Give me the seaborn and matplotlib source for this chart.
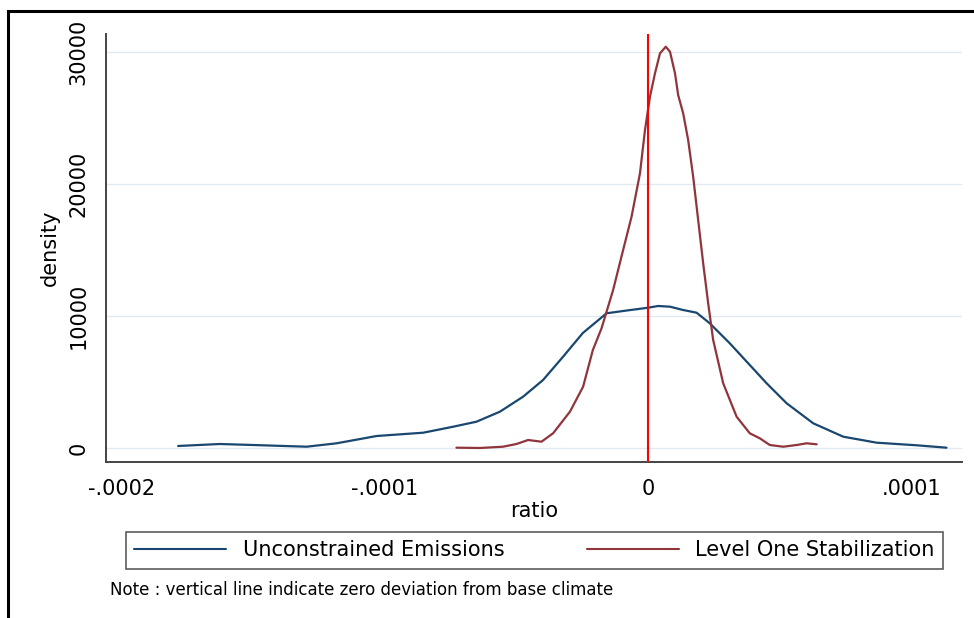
import pandas as pd
import seaborn as sns
import matplotlib
matplotlib.use("Agg")
import matplotlib.pyplot as plt
from matplotlib.patches import Rectangle

# kernel density estimates (ratio in 1e-6 units, density)
unc_x = [-178.4, -162.6, -149.9, -129.6, -118.2, -103.0, -85.3, -73.9, -65.1, -56.2,
         -47.4, -39.8, -32.3, -24.7, -15.7, -9.4, 0.1, 3.9, 8.4, 13.4,
         18.5, 23.5, 31.1, 38.7, 45.1, 52.7, 62.8, 74.2, 86.9, 102.1, 113.4]
unc_y = [152, 303, 227, 98, 356, 909, 1159, 1614, 1992, 2750,
         3886, 5152, 6894, 8712, 10205, 10379, 10629, 10758, 10705, 10455,
         10250, 9447, 7932, 6288, 4902, 3386, 1871, 856, 402, 205, 23]

lvl_x = [-72.7, -63.8, -55.0, -49.9, -45.5, -40.4, -36.0, -29.6, -24.6, -20.9,
         -17.6, -13.2, -9.4, -6.2, -3.0, -1.1, 0.8, 2.7, 4.6, 6.8,
         8.4, 10.3, 11.5, 13.4, 15.3, 17.2, 19.1, 21.0, 22.9, 24.8,
         28.6, 33.7, 38.7, 42.5, 46.3, 51.4, 56.5, 60.3, 64.1]
lvl_y = [23, 0, 98, 303, 606, 477, 1114, 2750, 4644, 7424,
         9068, 11970, 15000, 17523, 20811, 24091, 26614, 28386, 29902, 30402,
         30023, 28386, 26742, 25356, 23333, 20553, 17273, 13993, 10962, 8182,
         4902, 2371, 1114, 735, 227, 98, 227, 356, 280]

series = ["Unconstrained Emissions", "Level One Stabilization"]
x_ticks = [-0.0002, -0.0001, 0, 0.0001]
x_labels = ["-.0002", "-.0001", "0", ".0001"]
y_ticks = [0, 10000, 20000, 30000]

df = pd.concat([
    pd.DataFrame({"ratio": [v * 1e-6 for v in unc_x], "density": unc_y, "series": series[0]}),
    pd.DataFrame({"ratio": [v * 1e-6 for v in lvl_x], "density": lvl_y, "series": series[1]}),
])

sns.set_style("white")
plt.rcParams["font.family"] = ["DejaVu Sans"]
plt.rcParams["text.color"] = "black"
plt.rcParams["axes.labelcolor"] = "black"
plt.rcParams["xtick.labelcolor"] = "black"
plt.rcParams["ytick.labelcolor"] = "black"

fig = plt.figure(figsize=(9.74, 6.18), dpi=100)
ax = fig.add_axes([106 / 974, 1 - 462 / 618, (962 - 106) / 974, (462 - 34) / 618])

ax.grid(axis="y", color="#e2eaef", linewidth=1)
ax.grid(axis="x", visible=False)
ax.set_axisbelow(True)

sns.lineplot(data=df, x="ratio", y="density", hue="series", sort=False,
             palette={series[0]: "#1a476f", series[1]: "#90353b"},
             linewidth=1.6, ax=ax, legend=True)
ax.axvline(0, color="#ff0000", linewidth=1.5, zorder=3)

ax.set_xlim(-0.0002058, 0.0001193)
ax.set_ylim(-1061, 31364)
ax.set_xticks(x_ticks)
ax.set_xticklabels(x_labels)
ax.set_yticks(y_ticks)
ax.set_yticklabels([str(v) for v in y_ticks])

for side in ["top", "right"]:
    ax.spines[side].set_visible(False)
for side in ["left", "bottom"]:
    ax.spines[side].set_color("#444444")
    ax.spines[side].set_linewidth(1.4)

ax.tick_params(axis="both", direction="out", length=6.5, width=1.2, color="#444444",
               labelsize=15, labelcolor="black", pad=6)
ax.tick_params(axis="y", labelrotation=90)
for lab in ax.get_yticklabels():
    lab.set_va("center")

ax.set_xlabel("ratio", fontsize=15, labelpad=1, color="black")
ax.set_ylabel("density", fontsize=15, labelpad=6, color="black")

handles, labels = ax.get_legend_handles_labels()
ax.get_legend().remove()
leg = fig.legend(handles=handles, labels=labels, ncol=2, mode="expand", loc="center",
                 bbox_to_anchor=(126 / 974, 1 - 570 / 618, (943 - 126) / 974, 39 / 618),
                 fontsize=15, frameon=True, fancybox=False, handlelength=4.4,
                 handletextpad=0.8, borderpad=0.4, borderaxespad=0, labelcolor="black")
leg.get_frame().set_edgecolor("#333333")
leg.get_frame().set_linewidth(1.2)
for h in leg.get_lines():
    h.set_linewidth(1.5)

fig.text(110 / 974, 1 - 590 / 618, "Note : vertical line indicate zero deviation from base climate",
         fontsize=12, va="center", ha="left", color="black")

# outer frame (only top and left edges fall inside the picture)
fig.patches.append(Rectangle((8 / 974, -0.1), 1.2, 1 - 11 / 618 + 0.1, transform=fig.transFigure,
                             fill=False, edgecolor="black", linewidth=2.2, clip_on=False))

fig.savefig("out.png", dpi=100)
